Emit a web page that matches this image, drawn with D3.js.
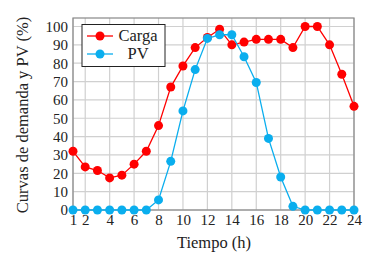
<!DOCTYPE html>
<html><head><meta charset="utf-8">
<script src="https://cdn.jsdelivr.net/npm/d3@7"></script>
<style>body{margin:0;background:#fff}svg{display:block}text{font-family:"Liberation Serif","DejaVu Serif",serif;fill:#222}</style>
</head><body>
<svg id="c" width="372" height="255"></svg>
<script>
const hours = d3.range(1, 25);
const carga = [32,23.5,21.5,17.5,19,25,32,46,67,78.5,88.5,94,98.5,90,91.5,93,93,93,88.5,100,100,90,74,56.5];
const pv = [0,0,0,0,0,0,0,5.5,26.5,54,76.5,93.5,95.5,95.5,83.5,69.5,39,18,2,0,0,0,0,0];
const xTicks = [1,2,4,6,8,10,12,14,16,18,20,22,24];
const yTicks = [0,10,20,30,40,50,60,70,80,90,100];
const seriesNames = ["Carga","PV"];
const colors = ["#ff0000","#0aaeee"];

const svg = d3.select("#c");
const L=73, R=354, T=18, B=210;
const x = d3.scaleLinear().domain([1,24]).range([L,R]);
const y = d3.scaleLinear().domain([0,100]).range([B,26.5]);

const g = svg.append("g");
g.selectAll(".vg").data(xTicks).join("line").attr("x1",d=>x(d)).attr("x2",d=>x(d)).attr("y1",T).attr("y2",B).attr("stroke","#d0d0d0").attr("stroke-width",1.2);
g.selectAll(".hg").data(yTicks).join("line").attr("x1",L).attr("x2",R).attr("y1",d=>y(d)).attr("y2",d=>y(d)).attr("stroke","#d0d0d0").attr("stroke-width",1.2);
g.append("rect").attr("x",L).attr("y",T).attr("width",R-L).attr("height",B-T).attr("fill","none").attr("stroke","#888").attr("stroke-width",1.2);

const xa = svg.append("g").attr("transform",`translate(0,${B})`).call(d3.axisBottom(x).tickValues(xTicks).tickSize(0).tickPadding(4));
const ya = svg.append("g").attr("transform",`translate(${L},0)`).call(d3.axisLeft(y).tickValues(yTicks).tickSize(0).tickPadding(5));
[xa,ya].forEach(a=>{a.select(".domain").remove();a.selectAll("text").style("font-family",'"Liberation Serif",serif').style("font-size","15px").attr("fill","#222");});

const line = d3.line().x((d,i)=>x(hours[i])).y(d=>y(d));
[carga,pv].forEach((s,k)=>{
  svg.append("path").datum(s).attr("d",line).attr("fill","none").attr("stroke",colors[k]).attr("stroke-width",1.3);
  svg.append("g").selectAll("circle").data(s).join("circle").attr("cx",(d,i)=>x(hours[i])).attr("cy",d=>y(d)).attr("r",4.5).attr("fill",colors[k]);
});

const lg = svg.append("g");
lg.append("rect").attr("x",82).attr("y",24.5).attr("width",83).attr("height",42).attr("fill","#fff").attr("stroke","#222").attr("stroke-width",1);
seriesNames.forEach((n,k)=>{
  const yy = 36 + k*18;
  lg.append("line").attr("x1",87).attr("x2",113).attr("y1",yy).attr("y2",yy).attr("stroke",colors[k]).attr("stroke-width",1.3);
  lg.append("circle").attr("cx",100).attr("cy",yy).attr("r",4.5).attr("fill",colors[k]);
  lg.append("text").attr("x",138).attr("y",yy+5).attr("text-anchor","middle").style("font-size","16.5px").text(n);
});

svg.append("text").attr("x",214).attr("y",248).attr("text-anchor","middle").style("font-size","16.5px").text("Tiempo (h)");
svg.append("text").attr("transform","translate(28,115) rotate(-90)").attr("text-anchor","middle").style("font-size","16.5px").text("Curvas de demanda y PV (%)");
</script>
</body></html>
